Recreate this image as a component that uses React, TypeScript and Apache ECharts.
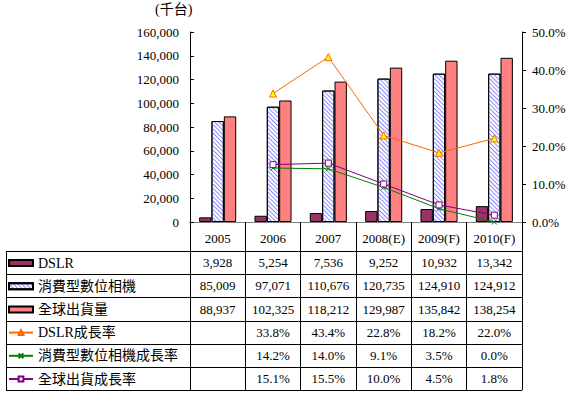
import React, { useEffect, useRef } from 'react';
import * as echarts from 'echarts';

const years = ['2005', '2006', '2007', '2008(E)', '2009(F)', '2010(F)'];
const dslr = [3928, 5254, 7536, 9252, 10932, 13342];
const consumer = [85009, 97071, 110676, 120735, 124910, 124912];
const total = [88937, 102325, 118212, 129987, 135842, 138254];
const dslrGrowth: (number | null)[] = [null, 33.8, 43.4, 22.8, 18.2, 22.0];
const consumerGrowth: (number | null)[] = [null, 14.2, 14.0, 9.1, 3.5, 0.0];
const totalGrowth: (number | null)[] = [null, 15.1, 15.5, 10.0, 4.5, 1.8];
const seriesNames = ['DSLR', '消費型數位相機', '全球出貨量', 'DSLR成長率', '消費型數位相機成長率', '全球出貨成長率'];
const unitLabel = '(千台)';
const leftMax = 160000;
const leftStep = 20000;
const rightMax = 50;
const rightStep = 10;

const FONT = "'Liberation Serif', 'Noto Sans CJK TC', serif";

const fmtNum = (v: number) => v.toLocaleString('en-US');
const fmtPct = (v: number | null) => (v == null ? '' : `${v.toFixed(1)}%`);

export default function App() {
  const ref = useRef<HTMLDivElement>(null);
  useEffect(() => {
    if (!ref.current) return;
    const chart = echarts.init(ref.current, undefined, { renderer: 'svg' });
    const W = 572, H = 395;
    const gridLeft = 190, gridRight = 522, gridTop = 32, gridBottom = 222;
    const tableTop = 251;
    const rowH = 23.2;
    const tableBottom = tableTop + rowH * 6;
    const rows: ((i: number) => string)[] = [
      (i) => fmtNum(dslr[i]),
      (i) => fmtNum(consumer[i]),
      (i) => fmtNum(total[i]),
      (i) => fmtPct(dslrGrowth[i]),
      (i) => fmtPct(consumerGrowth[i]),
      (i) => fmtPct(totalGrowth[i]),
    ];
    const rowAxes = rows.map((f, r) => ({
      type: 'category',
      data: years,
      position: 'bottom',
      offset: tableTop + rowH * r + rowH / 2 - gridBottom,
      axisLine: { show: false },
      axisTick: { show: false },
      axisLabel: {
        interval: 0,
        margin: 0,
        verticalAlign: 'middle',
        fontFamily: FONT,
        fontSize: 13,
        color: '#000',
        formatter: (_v: string, i: number) => f(i),
      },
    }));
    const lines: any[] = [];
    for (let r = 0; r <= 6; r++) {
      const y = Math.round(tableTop + rowH * r) + 0.5;
      lines.push({
        type: 'line',
        shape: { x1: 6, y1: y, x2: gridRight, y2: y },
        style: { stroke: '#000', lineWidth: 1 },
        silent: true,
      });
    }
    lines.push({
      type: 'line',
      shape: { x1: 6.5, y1: Math.round(tableTop) + 0.5, x2: 6.5, y2: Math.round(tableBottom) + 0.5 },
      style: { stroke: '#000', lineWidth: 1 },
      silent: true,
    });
    lines.push({
      type: 'text',
      left: 155,
      top: 2,
      style: { text: unitLabel, font: `14px ${FONT}`, fill: '#000' },
    });

    chart.setOption({
      animation: false,
      grid: { left: gridLeft, right: W - gridRight, top: gridTop, bottom: H - gridBottom },
      legend: {
        orient: 'vertical',
        left: 8,
        top: tableTop + 4,
        padding: 0,
        itemWidth: 24,
        itemHeight: 6,
        itemGap: rowH - 16,
        textStyle: { fontFamily: FONT, fontSize: 14, color: '#000', lineHeight: 16 },
        data: [
          { name: seriesNames[0], icon: 'rect' },
          { name: seriesNames[1], icon: 'rect' },
          { name: seriesNames[2], icon: 'rect' },
          { name: seriesNames[3] },
          { name: seriesNames[4] },
          { name: seriesNames[5] },
        ],
      },
      xAxis: [
        {
          type: 'category',
          data: years,
          position: 'bottom',
          axisLine: { lineStyle: { color: '#000', width: 1 } },
          axisTick: { show: true, interval: 0, length: tableBottom - gridBottom, lineStyle: { color: '#000' } },
          axisLabel: { interval: 0, margin: 16, verticalAlign: 'middle', fontFamily: FONT, fontSize: 13, color: '#000' },
        },
        {
          type: 'category',
          data: years,
          position: 'top',
          axisLine: { lineStyle: { color: '#808080' } },
          axisTick: { show: false },
          axisLabel: { show: false },
        },
        ...rowAxes,
      ],
      yAxis: [
        {
          type: 'value',
          min: 0,
          max: leftMax,
          interval: leftStep,
          axisLine: { show: true, lineStyle: { color: '#000' } },
          axisTick: { show: true, inside: true, length: 4, lineStyle: { color: '#000' } },
          splitLine: { show: false },
          axisLabel: { margin: 11, fontFamily: FONT, fontSize: 13, color: '#000', formatter: (v: number) => fmtNum(v) },
        },
        {
          type: 'value',
          min: 0,
          max: rightMax,
          interval: rightStep,
          position: 'right',
          axisLine: { show: true, lineStyle: { color: '#000' } },
          axisTick: { show: true, inside: false, length: 4, lineStyle: { color: '#000' } },
          splitLine: { show: false },
          axisLabel: { margin: 10, fontFamily: FONT, fontSize: 13, color: '#000', formatter: (v: number) => `${v.toFixed(1)}%` },
        },
      ],
      series: [
        {
          name: seriesNames[0],
          type: 'bar',
          data: dslr,
          barGap: '0%',
          barCategoryGap: '33%',
          itemStyle: { color: '#993366', borderColor: '#000', borderWidth: 1 },
        },
        {
          name: seriesNames[1],
          type: 'bar',
          data: consumer,
          itemStyle: {
            color: '#ffffff',
            borderColor: '#000',
            borderWidth: 1,
            decal: {
              symbol: 'rect',
              color: '#8c8cff',
              dashArrayX: [1, 0],
              dashArrayY: [1, 2],
              rotation: Math.PI / 4,
              symbolSize: 1,
            },
          },
        },
        {
          name: seriesNames[2],
          type: 'bar',
          data: total,
          itemStyle: { color: '#ff8080', borderColor: '#000', borderWidth: 1 },
        },
        {
          name: seriesNames[3],
          type: 'line',
          yAxisIndex: 1,
          data: dslrGrowth,
          symbol: 'triangle',
          symbolSize: 7,
          color: '#ff6600',
          lineStyle: { color: '#ff6600', width: 1 },
          itemStyle: { color: '#ffff00', borderColor: '#ff6600', borderWidth: 1 },
        },
        {
          name: seriesNames[4],
          type: 'line',
          yAxisIndex: 1,
          data: consumerGrowth,
          symbol: 'path://M0,0L10,10M10,0L0,10',
          symbolSize: 5,
          color: '#008000',
          lineStyle: { color: '#008000', width: 1 },
          itemStyle: { color: '#008000', borderColor: '#008000', borderWidth: 1 },
        },
        {
          name: seriesNames[5],
          type: 'line',
          yAxisIndex: 1,
          data: totalGrowth,
          symbol: 'rect',
          symbolSize: 6,
          color: '#800080',
          lineStyle: { color: '#800080', width: 1 },
          itemStyle: { color: '#ffffff', borderColor: '#800080', borderWidth: 1 },
        },
      ],
      graphic: lines,
    });
    return () => chart.dispose();
  }, []);
  return <div ref={ref} style={{ width: 572, height: 395, position: 'absolute', left: 0, top: 0 }} />;
}
